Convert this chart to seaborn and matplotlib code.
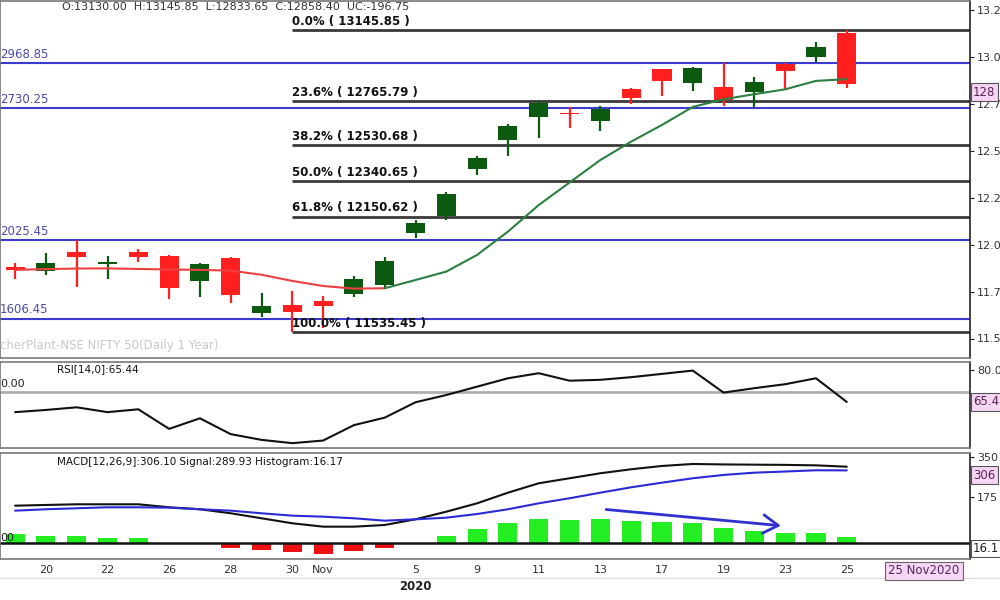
import numpy as np
import pandas as pd
import matplotlib
matplotlib.use("Agg")
import matplotlib.pyplot as plt
import matplotlib.transforms as mtrans
from matplotlib.lines import Line2D
import seaborn as sns

sns.set_theme(style="white")
plt.rcParams['font.family'] = ['DejaVu Sans']

# ---------------- data ----------------
dates = ["Oct 19", "Oct 20", "Oct 21", "Oct 22", "Oct 23", "Oct 26", "Oct 27", "Oct 28",
         "Oct 29", "Oct 30", "Nov 2", "Nov 3", "Nov 4", "Nov 5", "Nov 6", "Nov 9",
         "Nov 10", "Nov 11", "Nov 12", "Nov 13", "Nov 14", "Nov 17", "Nov 18", "Nov 19",
         "Nov 20", "Nov 23", "Nov 24", "Nov 25"]
opens = [11884, 11861, 11960, 11899, 11960, 11940, 11809, 11928, 11635, 11679, 11702, 11736,
         11784, 12061, 12154, 12403, 12559, 12680, 12700, 12660, 12829, 12936, 12862, 12844,
         12817, 12963, 13004, 13130.00]
highs = [11903, 11955, 12026, 11940, 11978, 11946, 11901, 11933, 11745, 11756, 11727, 11834,
         11933, 12132, 12280, 12476, 12645, 12773, 12737, 12741, 12835, 12938, 12950, 12969,
         12897, 12972, 13084, 13145.85]
lows = [11818, 11839, 11774, 11818, 11910, 11711, 11724, 11688, 11614, 11535.45, 11558, 11724,
        11763, 12035, 12132, 12373, 12474, 12571, 12622, 12609, 12751, 12796, 12822, 12741,
        12737, 12826, 12973, 12833.65]
closes = [11866, 11901, 11937, 11902, 11933, 11768, 11896, 11733, 11676, 11640, 11674, 11816,
          11914, 12118, 12269, 12462, 12634, 12755, 12695, 12723, 12782, 12874, 12942, 12773,
          12867, 12927, 13057, 12858.40]
moving_avg = [11866, 11870, 11873, 11874, 11871, 11868, 11866, 11862, 11840, 11807, 11780, 11766,
              11768, 11812, 11857, 11946, 12070, 12212, 12332, 12452, 12550, 12639, 12735, 12776,
              12803, 12829, 12874, 12883]
rsi = [60.8, 61.8, 63.0, 60.8, 62.1, 53.2, 58.0, 50.8, 48.2, 46.7, 47.9, 54.9, 58.3, 65.3,
       68.6, 72.4, 76.2, 78.5, 75.1, 75.5, 76.7, 78.2, 79.7, 69.7, 71.7, 73.5, 76.2, 65.44]
macd = [135.6, 138.7, 141.7, 141.7, 141.7, 128.6, 119.9, 102.4, 80.5, 58.6, 43.8, 43.8, 51.2,
        76.1, 109.4, 146.0, 192.5, 233.6, 255.5, 277.4, 294.9, 309.3, 318.0, 316.0, 315.0,
        314.0, 312.0, 306.10]
signal = [113.8, 119.9, 124.3, 128.6, 128.6, 127.0, 119.9, 113.8, 102.4, 91.9, 87.5, 80.5, 70.0,
          76.0, 83.1, 99.3, 119.9, 146.0, 168.0, 192.5, 216.0, 236.3, 255.5, 270.0, 280.0,
          285.0, 290.5, 289.93]
histogram = [22.4, 18.9, 18.9, 13.5, 13.5, -4.6, -3.5, -13.5, -19.7, -26.2, -30.5, -22.4, -13.5,
             0.0, 18.9, 35.9, 54.0, 62.9, 61.3, 62.9, 58.6, 56.7, 54.0, 38.6, 32.4, 27.0, 27.0,
             16.17]

fib_pcts = ["0.0%", "23.6%", "38.2%", "50.0%", "61.8%", "100.0%"]
fib_levels = [13145.85, 12765.79, 12530.68, 12340.65, 12150.62, 11535.45]
sr_levels = [12968.85, 12730.25, 12025.45, 11606.45]
sr_labels = ["2968.85", "2730.25", "2025.45", "1606.45"]

price_ticks = [11500, 11750, 12000, 12250, 12500, 12750, 13000, 13250]
price_tick_labels = ["11.5", "11.7", "12.0", "12.2", "12.5", "12.7", "13.0", "13.2"]
date_tick_pos = [1, 3, 5, 7, 9, 10, 13, 15, 17, 19, 21, 23, 25, 27]
date_tick_labels = ["20", "22", "26", "28", "30", "Nov", "5", "9", "11", "13", "17", "19",
                    "23", "25"]

df = pd.DataFrame(dict(date=dates, open=opens, high=highs, low=lows, close=closes,
                       ma=moving_avg, rsi=rsi, macd=macd, signal=signal, hist=histogram))
df["i"] = np.arange(len(df))

# ---------------- style ----------------
GREEN = "#0b5a10"
RED = "#ff1f1f"
MA_RED = "#ee4040"
MA_GREEN = "#2a8040"
BLUE = "#3b3bd0"
BLUE_TXT = "#4a4aa8"
FIB = "#3a3a3a"
FRAME = "#777777"
PINK = "#f6d6f2"
HIST_G = "#22ee22"
HIST_R = "#ee1010"
XLIM = (-0.49, 31.0)

fig = plt.figure(figsize=(10, 6), dpi=100)
ax = fig.add_axes([0, 1 - 358 / 600, 0.97, 357 / 600])
ax_rsi = fig.add_axes([0, 1 - 448 / 600, 0.97, 86 / 600])
ax_macd = fig.add_axes([0, 1 - 559 / 600, 0.97, 106 / 600])


def style_axis(a):
    a.set_xlim(*XLIM)
    for s in a.spines.values():
        s.set_color(FRAME)
        s.set_linewidth(1.2)
    a.spines["right"].set_color("#222222")
    a.yaxis.tick_right()
    a.tick_params(axis="y", which="both", direction="out", length=3, width=0.8, pad=2,
                  labelsize=8, colors="#222222", labelcolor="#333333")
    a.set_facecolor("white")


for a in (ax, ax_rsi, ax_macd):
    style_axis(a)

# ---------------- main price panel ----------------
up = df["close"] >= df["open"]
cols = np.where(up, GREEN, RED)
ax.vlines(df["i"], df["low"], df["high"], colors=cols, lw=1.6, zorder=3)
body_bottom = np.minimum(df["open"], df["close"])
body_h = np.maximum((df["close"] - df["open"]).abs(), 9)
ax.bar(df["i"], body_h, bottom=body_bottom, width=0.62, color=cols, zorder=4, linewidth=0)

sns.lineplot(x=df["i"][:13], y=df["ma"][:13], ax=ax, color=MA_RED, lw=1.5, zorder=5)
sns.lineplot(x=df["i"][12:], y=df["ma"][12:], ax=ax, color=MA_GREEN, lw=1.5, zorder=5)

trans_main = mtrans.blended_transform_factory(ax.transAxes, ax.transData)
for lvl, lab in zip(sr_levels, sr_labels):
    ax.axhline(lvl, color=BLUE, lw=1.5, zorder=2)
    ax.text(0.0, lvl + 12, lab, transform=trans_main, color=BLUE_TXT, fontsize=8.5,
            va="bottom", ha="left")

for pct, lvl in zip(fib_pcts, fib_levels):
    ax.hlines(lvl, 9, XLIM[1], color=FIB, lw=2, zorder=2)
    ax.text(9.0, lvl + 12, f"{pct} ( {lvl:.2f} )", color="#111111", fontsize=8.5,
            fontweight="bold", va="bottom", ha="left", zorder=6)

ax.set_ylim(11396, 13300)
ax.set_yticks(price_ticks)
ax.set_yticklabels(price_tick_labels)
ax.set_xticks([])
ax.set_xlabel("")
ax.set_ylabel("")
ax.text(1.003, 0.745, "128", transform=ax.transAxes, fontsize=8.5, color="#552255",
        va="center", ha="left", zorder=10,
        bbox=dict(boxstyle="square,pad=0.2", facecolor=PINK, edgecolor="#555555", lw=0.8))

# ---------------- RSI panel ----------------
sns.lineplot(x=df["i"], y=df["rsi"], ax=ax_rsi, color="#111111", lw=1.5, zorder=4)
ax_rsi.axhline(70, color="#b0b0b0", lw=2, zorder=2)
ax_rsi.set_ylim(44.5, 83.6)
ax_rsi.set_yticks([80])
ax_rsi.set_yticklabels(["80.0"])
ax_rsi.set_xticks([])
ax_rsi.set_xlabel("")
ax_rsi.set_ylabel("")
trans_rsi = mtrans.blended_transform_factory(ax_rsi.transAxes, ax_rsi.transData)
ax_rsi.text(0.0, 71.2, "0.00", transform=trans_rsi, fontsize=8, color="#222222",
            va="bottom", ha="left")
ax_rsi.text(1.003, 65.44, "65.4", transform=trans_rsi, fontsize=8.5, color="#552255",
            va="center", ha="left", zorder=10,
            bbox=dict(boxstyle="square,pad=0.2", facecolor=PINK, edgecolor="#555555", lw=0.8))

# ---------------- MACD panel ----------------
ax_hist = ax_macd.twinx()
hist_cols = np.where(df["hist"] >= 0, HIST_G, HIST_R)
ax_hist.bar(df["i"], df["hist"], width=0.62, color=hist_cols, linewidth=0, zorder=2)
ax_hist.axhline(0, color="#111111", lw=1.8, zorder=3)
ax_hist.set_ylim(-44, 242)
ax_hist.set_yticks([])
ax_hist.set_xlim(*XLIM)
for s in ax_hist.spines.values():
    s.set_visible(False)

sns.lineplot(x=df["i"], y=df["macd"], ax=ax_macd, color="#111111", lw=1.5, zorder=4)
sns.lineplot(x=df["i"], y=df["signal"], ax=ax_macd, color="#2b2bd6", lw=1.5, zorder=4)
style_axis(ax_macd)
ax_macd.set_ylim(-97.6, 366)
ax_macd.set_yticks([350, 175])
ax_macd.set_yticklabels(["350", "175"])
ax_macd.set_xticks(date_tick_pos)
ax_macd.set_xticklabels(date_tick_labels)
ax_macd.tick_params(axis="x", length=0, pad=4, labelsize=8, labelcolor="#333333")
ax_macd.set_xlabel("")
ax_macd.set_ylabel("")
ax_hist.set_zorder(0)
ax_macd.set_zorder(1)
ax_macd.patch.set_visible(False)
ax_hist.patch.set_facecolor("white")
ax_hist.patch.set_visible(True)

ax_macd.annotate("", xy=(24.95, 47), xytext=(19.1, 120),
                 arrowprops=dict(arrowstyle="->,head_length=0.9,head_width=0.55",
                                 color="#3030d0", lw=2))
ax_macd.text(0.0, 0.2, "00", transform=ax_macd.transAxes, fontsize=8, color="#222222",
             va="center", ha="left")
ax_macd.text(1.003, 0.79, "306", transform=ax_macd.transAxes, fontsize=8.5, color="#552255",
             va="center", ha="left", zorder=10,
             bbox=dict(boxstyle="square,pad=0.2", facecolor=PINK, edgecolor="#555555", lw=0.8))
ax_macd.text(1.003, 0.10, "16.1", transform=ax_macd.transAxes, fontsize=8.5, color="#222222",
             va="center", ha="left", zorder=10,
             bbox=dict(boxstyle="square,pad=0.2", facecolor="white", edgecolor="#555555", lw=0.8))

# ---------------- figure texts ----------------
fig.text(62 / 1000, 1 - 7 / 600, "O:13130.00  H:13145.85  L:12833.65  C:12858.40  UC:-196.75",
         fontsize=8, color="#333333", va="center", ha="left")
fig.text(0.0, 1 - 345 / 600, "cherPlant-NSE NIFTY 50(Daily 1 Year)", fontsize=8.5,
         color="#c8c8c8", va="center", ha="left")
fig.text(57 / 1000, 1 - 369 / 600, "RSI[14,0]:65.44", fontsize=7.5, color="#111111",
         va="center", ha="left")
fig.text(57 / 1000, 1 - 462 / 600, "MACD[12,26,9]:306.10 Signal:289.93 Histogram:16.17",
         fontsize=7.5, color="#111111", va="center", ha="left")
fig.add_artist(Line2D([0, 1], [1 - 578 / 600] * 2, color="#dddddd", lw=1))
fig.text(415 / 1000, 1 - 586 / 600, "2020", fontsize=8.5, fontweight="bold", color="#222222",
         va="center", ha="center")
fig.text(924 / 1000, 1 - 571 / 600, "25 Nov2020", fontsize=8.5, color="#552266",
         va="center", ha="center",
         bbox=dict(boxstyle="square,pad=0.25", facecolor=PINK, edgecolor="#666666", lw=0.8))

for a in (ax, ax_rsi, ax_macd):
    leg = a.get_legend()
    if leg is not None:
        leg.remove()

fig.savefig("out.png", dpi=100)
